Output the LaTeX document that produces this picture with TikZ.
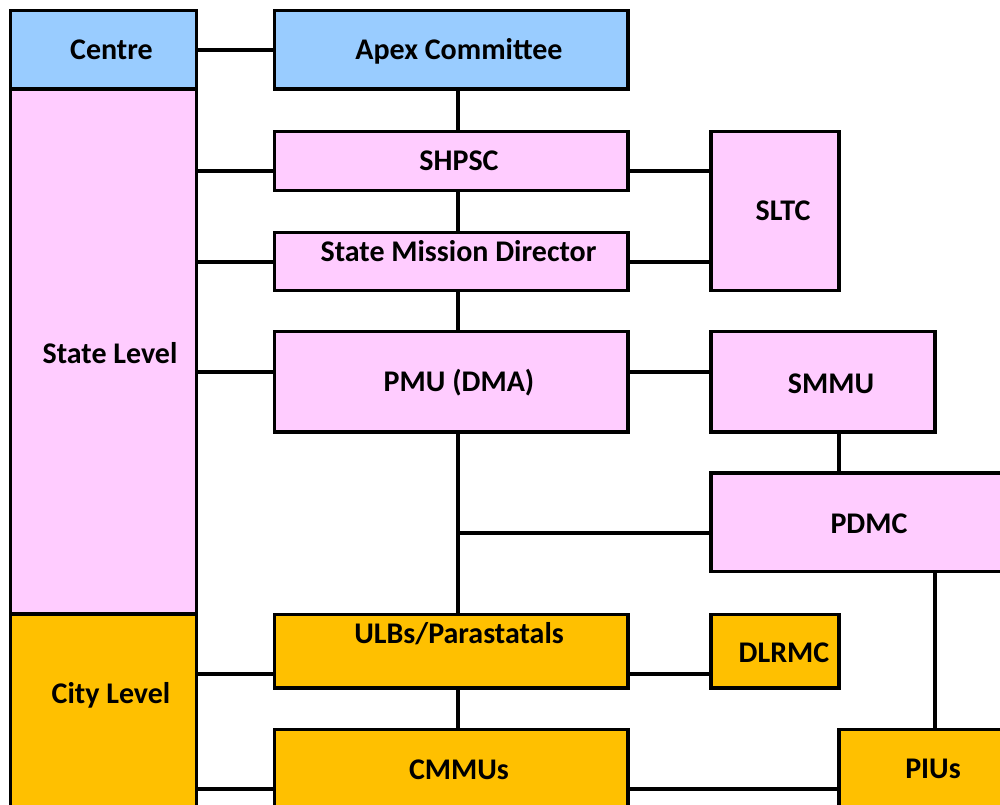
\documentclass[tikz,border=0pt]{standalone}
\usepackage{fontspec}
\setmainfont{Carlito}
\definecolor{cblue}{HTML}{99CCFF}
\definecolor{cpink}{HTML}{FFCCFF}
\definecolor{corange}{HTML}{FFC000}
\newcommand{\bx}[6]{\node[box, fill=#6, minimum width={#4-#2}, minimum height={#5-#3}] (#1) at ({(#2+#4)/2},{(#3+#5)/2}) {};}
\begin{document}
\begin{tikzpicture}[x=1pt,y=-1pt,
  box/.style={draw=black, rectangle, inner sep=0pt, line width=3.2pt},
  lbl/.style={anchor=base, font=\fontsize{30}{32}\selectfont\bfseries, inner sep=0pt},
  conn/.style={draw=black, line width=3.2pt}]
\useasboundingbox (0,0) rectangle (1000,804);
\begin{scope}
\clip (0,0) rectangle (1000,804);
% boxes
\bx{centre}{10.5}{10.5}{196.5}{89}{cblue}
\bx{state}{10.5}{89}{196.5}{614}{cpink}
\bx{city}{10.5}{614}{196.5}{840}{corange}
\bx{apex}{274.5}{10.5}{628}{89}{cblue}
\bx{shpsc}{274.5}{131.5}{628}{190.5}{cpink}
\bx{smd}{274.5}{232.5}{628}{290.5}{cpink}
\bx{sltc}{711}{131.5}{839}{290.5}{cpink}
\bx{pmu}{274.5}{331.5}{628}{432}{cpink}
\bx{smmu}{711}{331.5}{935}{432}{cpink}
\bx{pdmc}{711}{473}{1040}{571.5}{cpink}
\bx{ulbs}{274.5}{614.5}{628}{688}{corange}
\bx{dlrmc}{711}{614.5}{839}{688}{corange}
\bx{cmmus}{274.5}{729.5}{628}{840}{corange}
\bx{pius}{839}{729.5}{1040}{840}{corange}
% reference rows / columns
\coordinate (r50) at (0,50);
\coordinate (r171) at (0,171);
\coordinate (r262) at (0,262);
\coordinate (r372) at (0,372);
\coordinate (r674) at (0,674);
\coordinate (r789) at (0,789);
\coordinate (c458) at (458,0);
\coordinate (c839) at (839,0);
\coordinate (c935) at (935,0);
\coordinate (j) at (458,533);
% connectors
\draw[conn] (centre.east |- r50) -- (apex.west |- r50);
\draw[conn] (state.east |- r171) -- (shpsc.west |- r171);
\draw[conn] (shpsc.east |- r171) -- (sltc.west |- r171);
\draw[conn] (state.east |- r262) -- (smd.west |- r262);
\draw[conn] (smd.east |- r262) -- (sltc.west |- r262);
\draw[conn] (state.east |- r372) -- (pmu.west |- r372);
\draw[conn] (pmu.east |- r372) -- (smmu.west |- r372);
\draw[conn] (city.east |- r674) -- (ulbs.west |- r674);
\draw[conn] (ulbs.east |- r674) -- (dlrmc.west |- r674);
\draw[conn] (city.east |- r789) -- (cmmus.west |- r789);
\draw[conn] (cmmus.east |- r789) -- (pius.west |- r789);
\draw[conn] (apex.south -| c458) -- (shpsc.north -| c458);
\draw[conn] (shpsc.south -| c458) -- (smd.north -| c458);
\draw[conn] (smd.south -| c458) -- (pmu.north -| c458);
\draw[conn] (pmu.south -| c458) -- (ulbs.north -| c458);
\draw[conn] (ulbs.south -| c458) -- (cmmus.north -| c458);
\draw[conn] (j) -- (pdmc.west |- j);
\draw[conn] (smmu.south -| c839) -- (pdmc.north -| c839);
\draw[conn] (pdmc.south -| c935) -- (pius.north -| c935);
% labels
\node[lbl] (tcentre) at (111.5,59) {Centre};
\node[lbl] (tstate) at (110,363) {State Level};
\node[lbl] (tcity) at (111,703) {City Level};
\node[lbl] (tapex) at (459,59) {Apex Committee};
\node[lbl] (tshpsc) at (459,170) {SHPSC};
\node[lbl] (tsmd) at (458.5,261) {State Mission Director};
\node[lbl] (tsltc) at (783,220) {SLTC};
\node[lbl] (tpmu) at (459,391) {PMU (DMA)};
\node[lbl] (tsmmu) at (831,393) {SMMU};
\node[lbl] (tpdmc) at (869,533) {PDMC};
\node[lbl] (tulbs) at (459,643) {ULBs/Parastatals};
\node[lbl] (tdlrmc) at (784,662) {DLRMC};
\node[lbl] (tcmmus) at (459,779) {CMMUs};
\node[lbl] (tpius) at (933,778) {PIUs};
\end{scope}
\end{tikzpicture}
\end{document}
